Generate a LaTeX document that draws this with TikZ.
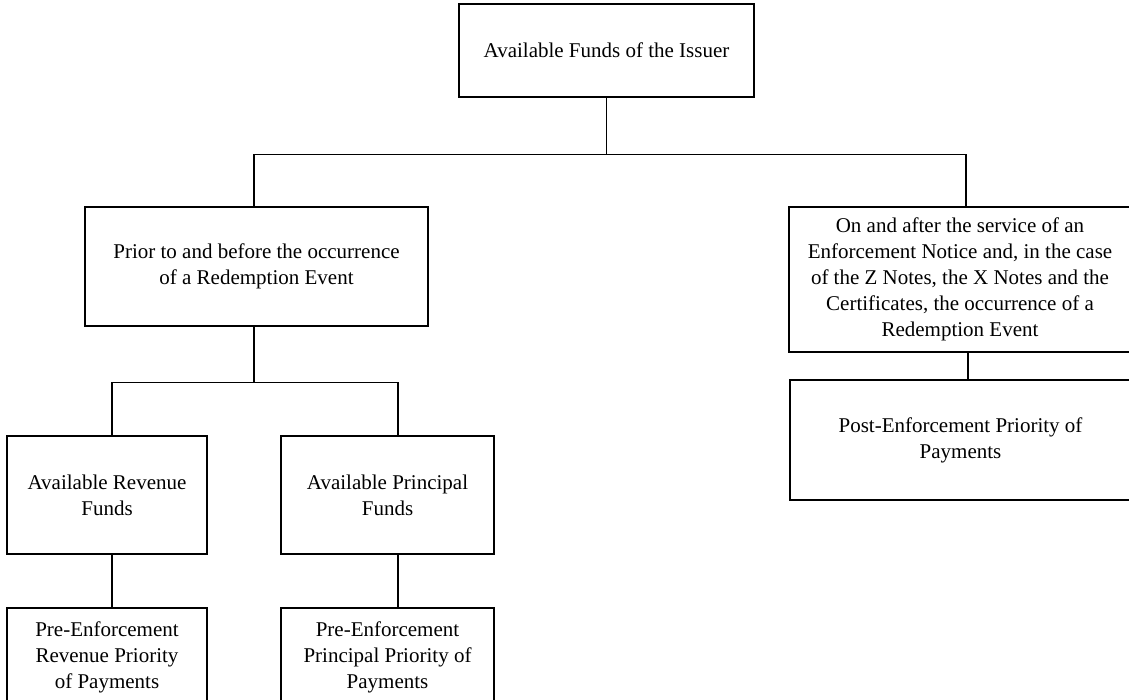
\documentclass[tikz,border=0pt]{standalone}
\usepackage{fontspec}
\setmainfont{Liberation Serif}
\usepackage{tikz}
\usetikzlibrary{calc}
\usetikzlibrary{shapes}
\tikzset{fundbox/.style={draw, rectangle, inner sep=0pt, align=center, font=\fontsize{21}{26}\selectfont}}
\newcommand{\lablbox}[6]{ \node[fundbox, minimum width=#4pt, minimum height=#5pt] (#1) at ( #2 , #3 ) {#6};}

\begin{document}
\begin{tikzpicture}[x=1pt, y=-1pt, line width=1.2pt]
        \useasboundingbox (0,0) rectangle (1129,700);
        \clip (0,0) rectangle (1129,700);

        % top
        \lablbox{issuer}{606.5}{50.5}{295}{93}{Available Funds of the Issuer}

        % row2
        \lablbox{prior}{256.5}{266.5}{343}{119}{Prior to and before the occurrence\\of a Redemption Event}
        \lablbox{enf}{960}{279.5}{342}{145}{On and after the service of an\\Enforcement Notice and, in the case\\of the Z Notes, the X Notes and the\\Certificates, the occurrence of a\\Redemption Event}

        % row3
        \lablbox{revenue}{107}{495}{200}{118}{Available Revenue\\Funds}
        \lablbox{principal}{387.5}{495}{213}{118}{Available Principal\\Funds}
        \lablbox{post}{960.5}{440}{341}{120}{Post-Enforcement Priority of\\Payments}

        % row4
        \lablbox{prerev}{107}{657}{200}{98}{Pre-Enforcement\\Revenue Priority\\of Payments}
        \lablbox{preprin}{387.5}{657}{213}{98}{Pre-Enforcement\\Principal Priority of\\Payments}

        % lines
        \draw (issuer.south) -- ++(0,57) coordinate (bus1);
        \draw ([xshift=-2.5pt]prior.north) |- (bus1) -| ([xshift=6pt]enf.north);
        \draw ([xshift=-2.5pt]prior.south) -- ++(0,56) coordinate (bus2);
        \draw ([xshift=5pt]revenue.north) |- (bus2) -| ([xshift=10.5pt]principal.north);
        \draw ([xshift=5pt]revenue.south) -- ([xshift=5pt]prerev.north);
        \draw ([xshift=10.5pt]principal.south) -- ([xshift=10.5pt]preprin.north);
        \draw ([xshift=8pt]enf.south) -- ([xshift=7.5pt]post.north);
\end{tikzpicture}
\end{document}
